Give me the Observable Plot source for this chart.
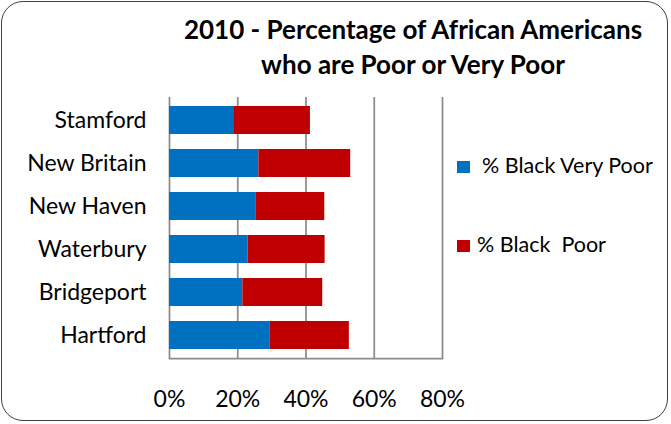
<!DOCTYPE html>
<html>
<head>
<meta charset="utf-8">
<script src="https://cdn.jsdelivr.net/npm/d3@7"></script>
<script src="https://cdn.jsdelivr.net/npm/@observablehq/plot@0.6"></script>
<style>
  html, body { margin: 0; padding: 0; background: #fff; }
  #wrap { position: relative; width: 671px; height: 424px; font-family: Lato, "Open Sans", sans-serif; color: #000; }
  #border { position: absolute; left: 1px; top: 1px; width: 667px; height: 420px; border: 1.6px solid #404040; border-radius: 22px; box-sizing: border-box; }
  #title { position: absolute; left: 153px; width: 520px; top: 12px; text-align: center; font-weight: bold; font-size: 26px; line-height: 35px; }
  #chart { position: absolute; left: 0; top: 0; }
  .sw { position: absolute; width: 13px; height: 12px; }
  .lt { position: absolute; font-size: 21.5px; line-height: 1; white-space: pre; }
</style>
</head>
<body>
<div id="wrap">
  <div id="chart"></div>
  <div id="border"></div>
  <div id="title">2010 - Percentage of African Americans<br>who are Poor or Very Poor</div>
  <div id="legend"></div>
</div>
<script>
const cities = ["Stamford", "New Britain", "New Haven", "Waterbury", "Bridgeport", "Hartford"];
const veryPoor = [18.8, 26.2, 25.3, 23.0, 21.5, 29.4];
const poor = [22.5, 26.9, 20.2, 22.6, 23.4, 23.3];
const seriesNames = ["% Black Very Poor", "% Black  Poor"];
const seriesColors = ["#0070C0", "#C00000"];
const xTicks = [0, 20, 40, 60, 80];

const rows = [];
cities.forEach((c, i) => {
  rows.push({city: c, series: seriesNames[0], value: veryPoor[i]});
  rows.push({city: c, series: seriesNames[1], value: poor[i]});
});

const chart = Plot.plot({
  width: 671,
  height: 424,
  marginLeft: 169,
  marginRight: 229,
  marginTop: 97,
  marginBottom: 66,
  style: {fontFamily: "Lato, 'Open Sans', sans-serif", fontSize: "23px", color: "#000", background: "transparent"},
  x: {domain: [0, 80], ticks: xTicks, tickFormat: d => d + "%", label: null},
  y: {domain: cities, paddingInner: 0.36, paddingOuter: 0.18, label: null},
  color: {domain: seriesNames, range: seriesColors},
  marks: [
    Plot.ruleX(xTicks, {stroke: "#8c8c8c", strokeWidth: 1.75, strokeOpacity: 1}),
    Plot.frame({anchor: "bottom", stroke: "#8c8c8c", strokeWidth: 1.75}),
    Plot.barX(rows, Plot.stackX({x: "value", y: "city", fill: "series", order: seriesNames})),
    Plot.axisX({ticks: xTicks, tickSize: 0, tickPadding: 32, tickFormat: d => d + "%", fontSize: 23, label: null}),
    Plot.axisY({tickSize: 0, tickPadding: 23, fontSize: 23, label: null})
  ]
});
document.getElementById("chart").appendChild(chart);

// legend (HTML), built from the series arrays
const legendPos = [{sx: 457, sy: 161, tx: 482, ty: 155}, {sx: 457, sy: 240, tx: 477, ty: 234}];
const legend = document.getElementById("legend");
seriesNames.forEach((name, i) => {
  const sw = document.createElement("div");
  sw.className = "sw";
  sw.style.left = legendPos[i].sx + "px";
  sw.style.top = legendPos[i].sy + "px";
  sw.style.background = seriesColors[i];
  legend.appendChild(sw);
  const t = document.createElement("div");
  t.className = "lt";
  t.style.left = legendPos[i].tx + "px";
  t.style.top = legendPos[i].ty + "px";
  t.textContent = name;
  legend.appendChild(t);
});
</script>
</body>
</html>
